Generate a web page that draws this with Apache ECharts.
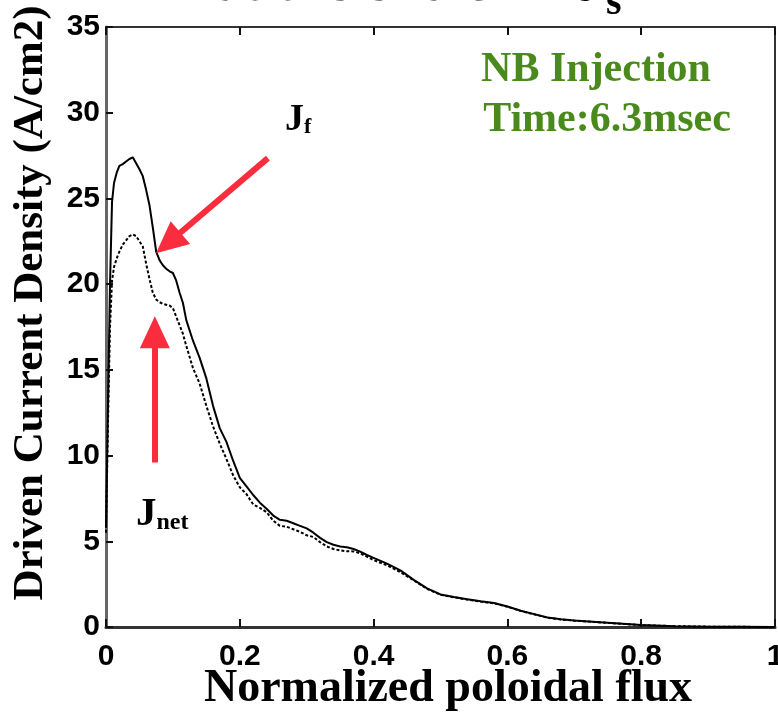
<!DOCTYPE html>
<html><head><meta charset="utf-8">
<script src="https://cdn.jsdelivr.net/npm/echarts@6/dist/echarts.min.js"></script>
<style>html,body{margin:0;padding:0;background:#fff}#c{width:778px;height:715px}</style>
</head><body><div id="c"></div>
<script>
// Normalized poloidal flux (x)
const flux = [0, 0.003, 0.006, 0.009, 0.012, 0.016, 0.020, 0.025, 0.030, 0.035, 0.040, 0.045, 0.050, 0.055, 0.060, 0.065, 0.070, 0.075, 0.080, 0.085, 0.090, 0.095, 0.100, 0.105, 0.110, 0.115, 0.120, 0.130, 0.140, 0.150, 0.160, 0.170, 0.180, 0.190, 0.200, 0.210, 0.220, 0.230, 0.240, 0.250, 0.260, 0.270, 0.280, 0.290, 0.300, 0.310, 0.320, 0.330, 0.340, 0.350, 0.360, 0.370, 0.380, 0.390, 0.400, 0.420, 0.440, 0.460, 0.480, 0.500, 0.520, 0.540, 0.560, 0.580, 0.600, 0.620, 0.640, 0.660, 0.680, 0.700, 0.750, 0.800, 0.850, 0.900, 0.950, 1.000];
// J_f (solid)
const jf = [5.8, 13, 20, 24.8, 25.9, 26.5, 26.9, 27.0, 27.15, 27.3, 27.4, 27.05, 26.7, 26.3, 25.5, 24.6, 23.3, 21.9, 21.4, 21.1, 20.9, 20.75, 20.65, 20.2, 19.5, 18.9, 17.9, 16.7, 15.7, 14.5, 12.9, 11.6, 10.8, 9.7, 8.7, 8.2, 7.7, 7.25, 6.9, 6.5, 6.25, 6.2, 6.05, 5.9, 5.75, 5.5, 5.2, 4.95, 4.8, 4.7, 4.65, 4.55, 4.4, 4.2, 4.03, 3.7, 3.3, 2.75, 2.25, 1.9, 1.75, 1.62, 1.5, 1.4, 1.2, 0.95, 0.75, 0.55, 0.45, 0.38, 0.25, 0.12, 0.05, 0.02, 0.01, 0];
// J_net (dashed)
const jnet = [5.5, 12, 17.5, 20.2, 21.0, 21.5, 21.9, 22.3, 22.55, 22.8, 22.9, 22.8, 22.5, 22.2, 21.2, 20.3, 19.5, 19.1, 18.95, 18.85, 18.8, 18.75, 18.6, 18.1, 17.6, 17.1, 16.4, 15.1, 14.2, 12.9, 11.7, 10.7, 9.8, 8.85, 8.15, 7.75, 7.15, 6.95, 6.7, 6.2, 5.9, 5.85, 5.7, 5.55, 5.35, 5.25, 4.95, 4.7, 4.55, 4.47, 4.42, 4.41, 4.3, 4.1, 3.9, 3.6, 3.2, 2.72, 2.22, 1.88, 1.73, 1.6, 1.48, 1.38, 1.18, 0.94, 0.74, 0.54, 0.44, 0.37, 0.24, 0.11, 0.05, 0.02, 0.01, 0];
// axis settings
const xMin = 0, xMax = 1, xStep = 0.2;
const yMin = 0, yMax = 35, yStep = 5;
// arrow annotations (data units): [fromX, fromY, toX, toY]
const arrowJf = [0.242, 27.35, 0.093, 22.4];
const arrowJnet = [0.073, 9.6, 0.073, 17.2];

const chart = echarts.init(document.getElementById('c'), null, {renderer: 'canvas'});
const sans = "'Liberation Sans', Arial, sans-serif";
const serif = "'Liberation Serif', 'DejaVu Serif', serif";
const axisColor = '#333';
const red = '#f92d3d';
const green = '#4a8a1c';

chart.setOption({
  animation: false,
  backgroundColor: '#fff',
  grid: {left: 106, right: 3, top: 27, bottom: 88, containLabel: false, outerBoundsMode: 'none'},
  xAxis: [{
    type: 'value', min: xMin, max: xMax, interval: xStep,
    axisLine: {show: true, onZero: false, lineStyle: {color: axisColor, width: 3}},
    axisTick: {show: true, inside: true, length: 8, lineStyle: {color: '#111', width: 2}},
    axisLabel: {fontFamily: sans, fontWeight: 'bold', fontSize: 30, color: '#000', margin: 15},
    splitLine: {show: false}
  }, {
    type: 'value', position: 'top', min: xMin, max: xMax, interval: xStep,
    axisLine: {show: true, onZero: false, lineStyle: {color: axisColor, width: 2}},
    axisTick: {show: true, inside: true, length: 8, lineStyle: {color: '#111', width: 2}},
    axisLabel: {show: false}, splitLine: {show: false}
  }],
  yAxis: [{
    type: 'value', min: yMin, max: yMax, interval: yStep,
    axisLine: {show: true, onZero: false, lineStyle: {color: '#666', width: 3}},
    axisTick: {show: true, inside: true, length: 7, lineStyle: {color: '#111', width: 2}},
    axisLabel: {fontFamily: sans, fontWeight: 'bold', fontSize: 30, color: '#000', margin: 6},
    splitLine: {show: false}
  }, {
    type: 'value', position: 'right', min: yMin, max: yMax, interval: yStep,
    axisLine: {show: true, onZero: false, lineStyle: {color: axisColor, width: 2}},
    axisTick: {show: false}, axisLabel: {show: false}, splitLine: {show: false}
  }],
  series: [{
    name: 'Jf', type: 'line', showSymbol: false, smooth: false,
    data: flux.map((x, i) => [x, jf[i]]),
    lineStyle: {color: '#000', width: 2},
    markLine: {
      silent: true, symbol: ['none', 'triangle'], symbolSize: [30, 32],
      lineStyle: {color: red, width: 6, type: 'solid'}, label: {show: false},
      data: [
        [{coord: [arrowJf[0], arrowJf[1]]}, {coord: [arrowJf[2], arrowJf[3]]}],
        [{coord: [arrowJnet[0], arrowJnet[1]]}, {coord: [arrowJnet[2], arrowJnet[3]]}]
      ]
    },
    z: 3
  }, {
    name: 'Jnet', type: 'line', showSymbol: false, smooth: false,
    data: flux.map((x, i) => [x, jnet[i]]),
    lineStyle: {color: '#000', width: 2, type: [3, 2]},
    z: 2
  }],
  graphic: [
    {type: 'text', x: 215, y: 14, style: {text: 'at the end of 2 τ', fontFamily: serif, fontWeight: 'bold', fontSize: 56, fill: '#000', align: 'left', verticalAlign: 'bottom'}},
    {type: 'text', x: 606, y: 24, style: {text: 's', fontFamily: serif, fontWeight: 'bold', fontSize: 40, fill: '#000', align: 'left', verticalAlign: 'bottom'}},
    {type: 'text', x: 31, y: 303, rotation: Math.PI / 2, style: {text: 'Driven Current Density (A/cm2)', fontFamily: serif, fontWeight: 'bold', fontSize: 43, fill: '#000', align: 'center', verticalAlign: 'middle'}},
    {type: 'text', x: 448, y: 666, style: {text: 'Normalized poloidal flux', fontFamily: serif, fontWeight: 'bold', fontSize: 46, fill: '#000', align: 'center', verticalAlign: 'top'}},
    {type: 'text', x: 596, y: 49, style: {text: 'NB Injection', fontFamily: serif, fontWeight: 'bold', fontSize: 42, fill: green, align: 'center'}},
    {type: 'text', x: 607, y: 99, style: {text: 'Time:6.3msec', fontFamily: serif, fontWeight: 'bold', fontSize: 42, fill: green, align: 'center'}},
    {type: 'text', x: 285, y: 101, style: {text: '{j|J}{s|f}', rich: {
      j: {fontFamily: serif, fontWeight: 'bold', fontSize: 38, fill: '#000'},
      s: {fontFamily: serif, fontWeight: 'bold', fontSize: 22, fill: '#000', padding: [14, 0, 0, 0]}}}},
    {type: 'text', x: 136, y: 494, style: {text: '{j|J}{s|net}', rich: {
      j: {fontFamily: serif, fontWeight: 'bold', fontSize: 41, fill: '#000'},
      s: {fontFamily: serif, fontWeight: 'bold', fontSize: 24, fill: '#000', padding: [16, 0, 0, 0]}}}}
  ]
});
</script>
</body></html>
